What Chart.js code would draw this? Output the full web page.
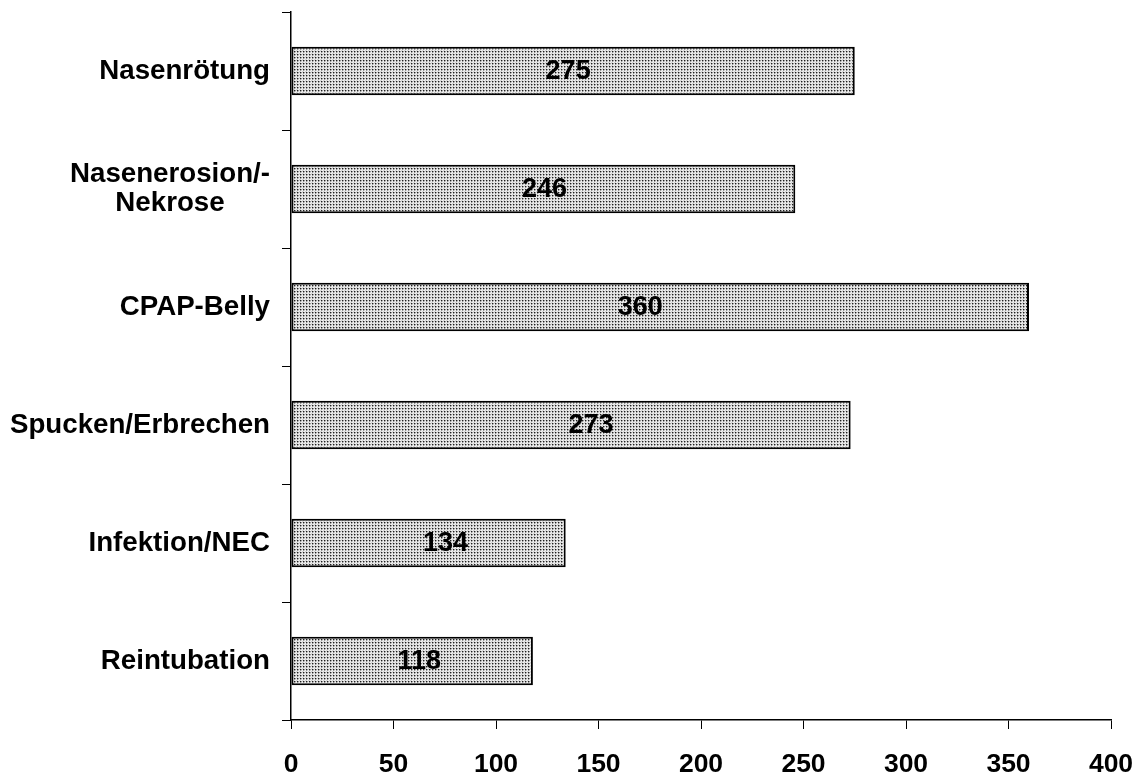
<!DOCTYPE html>
<html>
<head>
<meta charset="utf-8">
<script src="https://cdn.jsdelivr.net/npm/chart.js@4/dist/chart.umd.min.js"></script>
<style>
  html, body { margin: 0; padding: 0; background: #fff; }
  #wrap { width: 1142px; height: 776px; }
</style>
</head>
<body>
<div id="wrap"><canvas id="c" width="1142" height="776"></canvas></div>
<script>
// Komplikationen (Anzahl)
const categories = ['Nasenrötung', ['Nasenerosion/-', 'Nekrose'], 'CPAP-Belly', 'Spucken/Erbrechen', 'Infektion/NEC', 'Reintubation'];
const counts = [275, 246, 360, 273, 134, 118];
const xTicks = [0, 50, 100, 150, 200, 250, 300, 350, 400];

const FONT = '"Liberation Sans", Arial, sans-serif';

// dotted grey fill for the bars (3x3 tile of grey levels)
function dotPattern(ctx) {
  const levels = [
    [30, 150, 220],
    [150, 210, 245],
    [220, 245, 210]
  ];
  const tile = document.createElement('canvas');
  tile.width = 3; tile.height = 3;
  const t = tile.getContext('2d');
  levels.forEach((row, r) => row.forEach((g, c) => {
    t.fillStyle = `rgb(${g},${g},${g})`;
    t.fillRect(c, r, 1, 1);
  }));
  return ctx.createPattern(tile, 'repeat');
}

// category names left of the axis; wrapped names are centred line by line
const categoryLabels = {
  id: 'categoryLabels',
  afterDraw(chart) {
    const ctx = chart.ctx, y = chart.scales.y;
    const right = y.right - 21;
    ctx.save();
    ctx.font = 'bold 27.7px ' + FONT;
    ctx.fillStyle = '#000';
    ctx.textBaseline = 'middle';
    categories.forEach((lab, i) => {
      const cy = y.getPixelForValue(i);
      const lines = Array.isArray(lab) ? lab : [lab];
      if (lines.length === 1) {
        ctx.textAlign = 'right';
        ctx.fillText(lines[0], right, cy);
      } else {
        const w = Math.max(...lines.map(l => ctx.measureText(l).width));
        ctx.textAlign = 'center';
        lines.forEach((l, j) => ctx.fillText(l, right - w / 2, cy + (j - (lines.length - 1) / 2) * 29));
      }
    });
    ctx.restore();
  }
};

// value printed inside each bar, near its middle (with a small sideways nudge per bar)
const barValues = {
  id: 'barValues',
  afterDatasetsDraw(chart, args, opts) {
    const ctx = chart.ctx;
    const meta = chart.getDatasetMeta(0);
    const nudge = opts.nudge || [];
    ctx.save();
    ctx.font = 'bold 27px ' + FONT;
    ctx.fillStyle = '#000';
    ctx.textAlign = 'center';
    ctx.textBaseline = 'middle';
    meta.data.forEach((bar, i) => {
      ctx.fillText(String(counts[i]), (bar.base + bar.x) / 2 + (nudge[i] || 0), bar.y + 1);
    });
    ctx.restore();
  }
};

const canvas = document.getElementById('c');
const ctx = canvas.getContext('2d');

new Chart(ctx, {
  type: 'bar',
  data: {
    labels: categories,
    datasets: [{
      data: counts,
      backgroundColor: dotPattern(ctx),
      borderColor: '#000',
      borderWidth: 2,
      borderSkipped: false,
      barPercentage: 1,
      categoryPercentage: 0.41
    }]
  },
  options: {
    indexAxis: 'y',
    responsive: false,
    animation: false,
    layout: { padding: { top: 12, right: 31, left: 0, bottom: 0 } },
    plugins: {
      legend: { display: false },
      tooltip: { enabled: false },
      barValues: { nudge: [-5, 1, -20, 20, 17, 7] }
    },
    scales: {
      y: {
        afterFit(s) { s.width = 291; },
        grid: { drawOnChartArea: false, tickLength: 9, color: '#000', offset: true },
        border: { color: '#000', width: 1.5 },
        ticks: { display: false }
      },
      x: {
        min: 0, max: 400,
        afterFit(s) { s.height = 56; s.paddingLeft = 0; s.paddingRight = 0; },
        afterBuildTicks(s) { s.ticks = xTicks.map(v => ({ value: v })); },
        grid: { drawOnChartArea: false, tickLength: 9, color: '#000' },
        border: { color: '#000', width: 1.5 },
        ticks: { color: '#000', font: { family: FONT, size: 26.5, weight: 'bold' }, padding: 20, maxRotation: 0 }
      }
    }
  },
  plugins: [categoryLabels, barValues]
});
</script>
</body>
</html>
